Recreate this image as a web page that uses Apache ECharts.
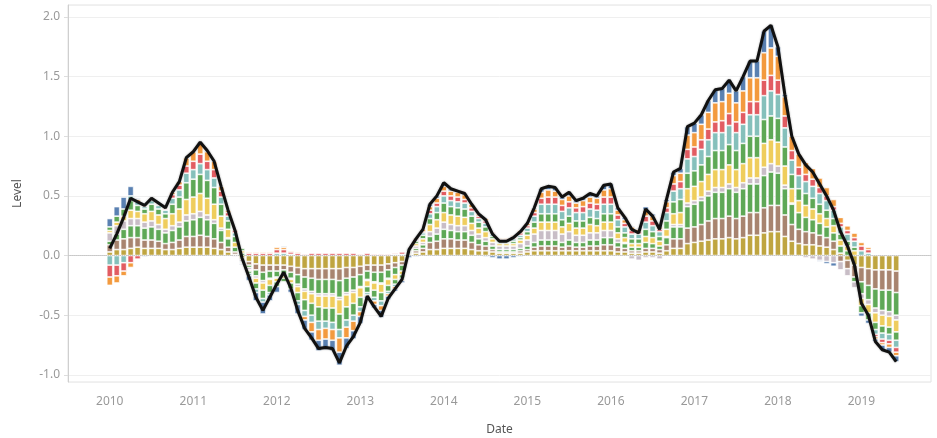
<!DOCTYPE html>
<html>
<head>
<meta charset="utf-8">
<title>Level</title>
<script src="https://cdn.jsdelivr.net/npm/echarts@6/dist/echarts.min.js"></script>
<style>
    html, body { margin: 0; padding: 0; background: #fff; }
    #chart { width: 937px; height: 438px; }
</style>
</head>
<body>
<div id="chart"></div>
<script>
// monthly values, Jan 2010 .. Jun 2019 (one row per year)
var olive = [
    0.03, 0.05, 0.05, 0.06, 0.07, 0.06, 0.06, 0.06, 0.05, 0.05, 0.06, 0.07,
    0.07, 0.07, 0.07, 0.06, 0.05, 0.03, 0.01, -0.02, -0.05, -0.07, -0.08, -0.08,
    -0.08, -0.08, -0.09, -0.10, -0.11, -0.11, -0.11, -0.11, -0.11, -0.11, -0.10, -0.10,
    -0.09, -0.08, -0.08, -0.08, -0.07, -0.06, -0.05, 0.01, 0.02, 0.03, 0.05, 0.05,
    0.06, 0.06, 0.06, 0.06, 0.05, 0.04, 0.04, 0.03, 0.02, 0.02, 0.02, 0.02,
    0.03, 0.04, 0.04, 0.04, 0.04, 0.04, 0.04, 0.04, 0.04, 0.04, 0.04, 0.04,
    0.04, 0.03, 0.03, 0.02, 0.02, 0.03, 0.03, 0.02, 0.04, 0.06, 0.06, 0.10,
    0.11, 0.12, 0.13, 0.14, 0.14, 0.15, 0.14, 0.15, 0.17, 0.17, 0.19, 0.20,
    0.20, 0.16, 0.12, 0.10, 0.09, 0.09, 0.08, 0.07, 0.05, 0.02, -0.04, -0.08,
    -0.10, -0.11, -0.12, -0.12, -0.12, -0.13
];
var brown = [
    0.06, 0.08, 0.09, 0.09, 0.08, 0.07, 0.07, 0.06, 0.05, 0.06, 0.07, 0.09,
    0.09, 0.10, 0.09, 0.08, 0.06, 0.04, 0.02, -0.01, -0.03, -0.05, -0.06, -0.05,
    -0.05, -0.04, -0.05, -0.06, -0.07, -0.08, -0.09, -0.09, -0.09, -0.10, -0.09, -0.08,
    -0.07, -0.05, -0.06, -0.06, -0.05, -0.04, -0.03, 0.01, 0.02, 0.03, 0.06, 0.07,
    0.08, 0.08, 0.07, 0.07, 0.06, 0.05, 0.04, 0.02, 0.01, 0.01, 0.01, 0.02,
    0.02, 0.03, 0.04, 0.04, 0.04, 0.03, 0.04, 0.03, 0.03, 0.04, 0.04, 0.05,
    0.05, 0.04, 0.03, 0.02, 0.02, 0.03, 0.03, 0.03, 0.05, 0.08, 0.08, 0.13,
    0.13, 0.14, 0.16, 0.17, 0.17, 0.18, 0.17, 0.18, 0.19, 0.19, 0.21, 0.22,
    0.22, 0.18, 0.14, 0.12, 0.11, 0.10, 0.09, 0.08, 0.07, -0.05, -0.07, -0.10,
    -0.12, -0.14, -0.16, -0.17, -0.17, -0.18
];
var greenLow = [
    0.03, 0.05, 0.08, 0.10, 0.10, 0.10, 0.11, 0.10, 0.09, 0.10, 0.11, 0.13,
    0.14, 0.15, 0.14, 0.13, 0.10, 0.07, 0.04, 0.02, -0.02, -0.05, -0.07, -0.06,
    -0.05, -0.04, -0.05, -0.08, -0.10, -0.11, -0.12, -0.12, -0.12, -0.14, -0.12, -0.11,
    -0.10, -0.07, -0.08, -0.09, -0.07, -0.06, -0.05, 0.01, 0.02, 0.03, 0.05, 0.06,
    0.08, 0.07, 0.07, 0.07, 0.06, 0.05, 0.04, 0.03, 0.02, 0.02, 0.02, 0.02,
    0.03, 0.04, 0.05, 0.05, 0.05, 0.04, 0.05, 0.04, 0.04, 0.05, 0.05, 0.06,
    0.06, 0.04, 0.04, 0.03, 0.03, 0.05, 0.04, 0.03, 0.06, 0.10, 0.10, 0.18,
    0.19, 0.20, 0.21, 0.22, 0.22, 0.23, 0.22, 0.23, 0.24, 0.24, 0.27, 0.28,
    0.27, 0.22, 0.17, 0.14, 0.12, 0.11, 0.10, 0.09, 0.07, 0.06, 0.04, -0.04,
    -0.10, -0.12, -0.16, -0.17, -0.18, -0.19
];
var grey = [
    0.07, 0.07, 0.07, 0.06, 0.06, 0.05, 0.05, 0.04, 0.03, 0.04, 0.04, 0.05,
    0.05, 0.05, 0.04, 0.03, 0.02, 0.01, -0.01, -0.02, -0.02, -0.02, -0.02, -0.01,
    -0.01, -0.01, -0.01, -0.02, -0.02, -0.02, -0.02, -0.02, -0.02, -0.02, -0.02, -0.02,
    -0.01, -0.01, -0.01, -0.01, -0.01, 0.01, 0.01, 0.01, 0.02, 0.02, 0.04, 0.05,
    0.06, 0.05, 0.05, 0.05, 0.04, 0.04, 0.03, 0.03, 0.03, 0.03, 0.03, 0.04,
    0.05, 0.07, 0.08, 0.08, 0.08, 0.07, 0.07, 0.06, 0.06, 0.06, 0.06, 0.06,
    0.06, 0.03, 0.01, -0.03, -0.04, -0.02, -0.02, -0.03, 0.01, 0.02, 0.02, 0.03,
    0.03, 0.03, 0.04, 0.04, 0.04, 0.04, 0.04, 0.05, 0.05, 0.05, 0.07, 0.07,
    0.06, 0.03, 0.01, 0, -0.02, -0.03, -0.04, -0.05, -0.06, -0.07, -0.06, -0.05,
    -0.04, -0.04, -0.04, -0.04, -0.04, -0.04
];
var yellow = [
    0.02, 0.03, 0.04, 0.07, 0.06, 0.07, 0.08, 0.08, 0.09, 0.10, 0.11, 0.13,
    0.14, 0.15, 0.14, 0.13, 0.10, 0.07, 0.04, 0.02, -0.01, -0.04, -0.06, -0.05,
    -0.03, -0.02, -0.03, -0.05, -0.07, -0.08, -0.09, -0.10, -0.10, -0.12, -0.10, -0.09,
    -0.08, -0.05, -0.06, -0.07, -0.05, -0.04, -0.03, 0, 0.02, 0.03, 0.06, 0.07,
    0.08, 0.08, 0.08, 0.07, 0.06, 0.05, 0.05, 0.03, 0.02, 0.02, 0.02, 0.03,
    0.04, 0.05, 0.07, 0.07, 0.07, 0.06, 0.07, 0.06, 0.06, 0.07, 0.06, 0.07,
    0.07, 0.05, 0.04, 0.03, 0.03, 0.05, 0.05, 0.04, 0.06, 0.09, 0.10, 0.12,
    0.12, 0.13, 0.14, 0.15, 0.15, 0.16, 0.15, 0.16, 0.17, 0.17, 0.20, 0.20,
    0.20, 0.16, 0.12, 0.10, 0.10, 0.09, 0.08, 0.07, 0.06, 0.05, 0.04, 0.04,
    -0.06, -0.07, -0.08, -0.09, -0.09, -0.10
];
var greenHigh = [
    0.03, 0.05, 0.06, 0.08, 0.05, 0.04, 0.06, 0.05, 0.04, 0.08, 0.10, 0.14,
    0.15, 0.16, 0.15, 0.14, 0.10, 0.07, 0.05, 0.02, -0.02, -0.05, -0.07, -0.06,
    -0.04, -0.03, -0.05, -0.07, -0.09, -0.10, -0.12, -0.11, -0.12, -0.13, -0.11, -0.10,
    -0.08, -0.05, -0.06, -0.07, -0.05, -0.04, -0.03, 0.01, 0.02, 0.03, 0.05, 0.06,
    0.08, 0.07, 0.07, 0.07, 0.06, 0.05, 0.04, 0.02, 0.01, 0.01, 0.02, 0.02,
    0.03, 0.05, 0.07, 0.07, 0.07, 0.06, 0.06, 0.06, 0.06, 0.06, 0.06, 0.07,
    0.07, 0.05, 0.04, 0.04, 0.04, 0.06, 0.05, 0.04, 0.07, 0.10, 0.11, 0.13,
    0.13, 0.14, 0.15, 0.16, 0.16, 0.17, 0.16, 0.17, 0.18, 0.18, 0.20, 0.20,
    0.20, 0.16, 0.12, 0.10, 0.10, 0.09, 0.08, 0.07, 0.06, 0.05, 0.04, 0.03,
    -0.06, -0.06, -0.06, -0.06, -0.06, -0.07
];
var teal = [
    -0.08, -0.08, -0.06, 0.04, 0.03, 0.02, 0.03, 0.03, 0.03, 0.05, 0.06, 0.08,
    0.08, 0.09, 0.09, 0.08, 0.06, 0.04, 0.03, -0.01, -0.02, -0.03, -0.03, -0.02,
    0.02, 0.02, 0.01, -0.03, -0.05, -0.06, -0.07, -0.06, -0.06, -0.07, -0.06, -0.05,
    -0.04, -0.02, -0.03, -0.04, -0.02, -0.02, -0.01, 0.01, 0.01, 0.02, 0.04, 0.05,
    0.06, 0.05, 0.05, 0.05, 0.04, 0.03, 0.03, 0.02, 0.02, 0.02, 0.02, 0.02,
    0.03, 0.05, 0.08, 0.08, 0.08, 0.07, 0.07, 0.07, 0.07, 0.07, 0.07, 0.08,
    0.08, 0.06, 0.05, 0.04, 0.04, 0.06, 0.05, 0.04, 0.07, 0.09, 0.09, 0.12,
    0.12, 0.13, 0.14, 0.15, 0.15, 0.16, 0.15, 0.16, 0.18, 0.18, 0.20, 0.21,
    0.20, 0.16, 0.12, 0.11, 0.10, 0.10, 0.09, 0.08, 0.07, 0.06, 0.06, 0.05,
    0.04, 0.02, -0.04, -0.05, -0.05, -0.06
];
var red = [
    -0.10, -0.09, -0.07, -0.06, -0.03, 0.01, 0.01, 0.01, 0.01, 0.03, 0.04, 0.06,
    0.07, 0.08, 0.07, 0.07, 0.05, 0.03, 0.02, -0.01, 0.02, 0.02, 0.02, 0.02,
    0.03, 0.03, 0.02, 0.02, 0.01, 0.02, 0.02, 0.02, 0.02, 0.02, 0.02, 0.02,
    0.01, 0.02, 0.01, 0.01, 0.01, 0.01, 0.02, 0.01, 0.01, 0.01, 0.03, 0.03,
    0.04, 0.04, 0.04, 0.03, 0.03, 0.02, 0.02, 0.01, 0.01, 0.01, 0.02, 0.02,
    0.02, 0.03, 0.05, 0.06, 0.06, 0.05, 0.05, 0.04, 0.05, 0.05, 0.05, 0.06,
    0.06, 0.04, 0.03, 0.03, 0.02, 0.05, 0.04, 0.02, 0.04, 0.06, 0.06, 0.08,
    0.08, 0.08, 0.09, 0.09, 0.10, 0.10, 0.09, 0.10, 0.11, 0.11, 0.13, 0.13,
    0.12, 0.10, 0.08, 0.07, 0.06, 0.06, 0.05, 0.04, 0.03, 0.03, 0.03, 0.03,
    0.04, 0.03, -0.02, -0.03, -0.03, -0.04
];
var orange = [
    -0.07, -0.06, -0.04, -0.04, 0.02, 0.01, 0.01, 0.01, 0.01, 0.02, 0.03, 0.07,
    0.08, 0.09, 0.08, 0.07, 0.04, 0.02, 0.01, 0, 0.01, 0.01, 0.01, 0.01,
    0.02, 0.02, 0.01, 0.01, -0.03, -0.08, -0.09, -0.09, -0.09, -0.12, -0.09, -0.08,
    -0.04, -0.01, -0.03, -0.04, -0.02, -0.02, -0.01, 0, 0.01, 0.02, 0.03, 0.04,
    0.04, 0.04, 0.04, 0.04, 0.03, 0.02, 0.02, 0.01, 0.01, 0.01, 0.01, 0.02,
    0.02, 0.03, 0.05, 0.06, 0.05, 0.05, 0.05, 0.04, 0.05, 0.05, 0.05, 0.06,
    0.07, 0.04, 0.03, 0.03, 0.02, 0.05, 0.04, 0.02, 0.05, 0.07, 0.07, 0.12,
    0.12, 0.13, 0.14, 0.16, 0.16, 0.17, 0.16, 0.18, 0.20, 0.20, 0.23, 0.23,
    0.20, 0.16, 0.12, 0.11, 0.10, 0.09, 0.08, 0.07, 0.06, 0.05, 0.04, 0.04,
    0.03, 0.02, -0.02, -0.02, -0.03, -0.03
];
var blue = [
    0.07, 0.08, 0.10, 0.08, 0.01, -0.01, 0, 0, 0, 0, 0, 0,
    0, 0.01, 0.01, 0, 0, 0, 0, -0.01, -0.04, -0.07, -0.10, -0.05,
    -0.05, 0.01, -0.03, -0.08, -0.08, -0.07, -0.09, -0.09, -0.09, -0.11, -0.09, -0.07,
    -0.06, -0.02, -0.03, -0.06, -0.03, -0.02, -0.02, -0.02, -0.01, 0, 0.02, 0.02,
    0.03, 0.02, 0.01, 0.01, 0, 0, -0.01, -0.02, -0.03, -0.03, -0.02, -0.01,
    0, 0.01, 0.03, 0.03, 0.03, 0.02, 0.03, 0.02, 0.02, 0.03, 0.02, 0.04,
    0.04, 0.02, 0.02, 0.01, 0.01, 0.03, 0.02, 0.01, 0.02, 0.03, 0.04, 0.07,
    0.08, 0.08, 0.10, 0.11, 0.11, 0.11, 0.10, 0.12, 0.14, 0.14, 0.18, 0.19,
    0.08, 0.02, 0, 0, 0, 0, -0.01, -0.02, -0.03, 0, 0, 0,
    -0.03, -0.03, -0.02, -0.04, -0.04, -0.05
];
// overall level (black line)
var level = [
    0.06, 0.18, 0.32, 0.48, 0.45, 0.42, 0.48, 0.44, 0.40, 0.53, 0.62, 0.82,
    0.87, 0.95, 0.88, 0.79, 0.58, 0.38, 0.21, -0.02, -0.18, -0.35, -0.46, -0.35,
    -0.24, -0.14, -0.27, -0.46, -0.61, -0.69, -0.78, -0.77, -0.78, -0.90, -0.76, -0.68,
    -0.56, -0.34, -0.43, -0.51, -0.36, -0.28, -0.20, 0.05, 0.14, 0.22, 0.43, 0.50,
    0.61, 0.56, 0.54, 0.52, 0.43, 0.35, 0.30, 0.18, 0.12, 0.12, 0.15, 0.20,
    0.27, 0.40, 0.56, 0.58, 0.57, 0.49, 0.53, 0.46, 0.48, 0.52, 0.50, 0.59,
    0.60, 0.40, 0.32, 0.22, 0.19, 0.39, 0.33, 0.22, 0.47, 0.70, 0.73, 1.08,
    1.11, 1.18, 1.30, 1.39, 1.40, 1.47, 1.38, 1.50, 1.63, 1.63, 1.88, 1.93,
    1.75, 1.35, 1.00, 0.85, 0.76, 0.70, 0.60, 0.50, 0.38, 0.20, 0.08, -0.08,
    -0.40, -0.50, -0.72, -0.79, -0.81, -0.89
];

// axis runs Jul 2009 .. Nov 2019 so the data sits inside like the original
var months = [];
for (var y = 2009; y <= 2019; y++) {
    for (var m = 1; m <= 12; m++) {
        if ((y === 2009 && m < 7) || (y === 2019 && m > 11)) continue;
        months.push(y + '-' + (m < 10 ? '0' + m : m));
    }
}
var lead = months.indexOf('2010-01');
function pad(arr) {
    var out = [];
    for (var i = 0; i < months.length; i++) {
        var k = i - lead;
        out.push(k >= 0 && k < arr.length ? arr[k] : null);
    }
    return out;
}

var parts = [
    { name: 'Olive', data: olive, color: '#bfa540' },
    { name: 'Brown', data: brown, color: '#a8846f' },
    { name: 'Green A', data: greenLow, color: '#5ea856' },
    { name: 'Grey', data: grey, color: '#c8bdc6' },
    { name: 'Yellow', data: yellow, color: '#efcd5c' },
    { name: 'Green B', data: greenHigh, color: '#5ea856' },
    { name: 'Teal', data: teal, color: '#85c0bb' },
    { name: 'Red', data: red, color: '#e25c62' },
    { name: 'Orange', data: orange, color: '#f39a3e' },
    { name: 'Blue', data: blue, color: '#5a81b2' }
];

var series = parts.map(function(p) {
    return {
        name: p.name,
        type: 'bar',
        stack: 'level',
        barWidth: 6,
        data: pad(p.data),
        itemStyle: { color: p.color, borderColor: '#fff', borderWidth: 0.7 }
    };
});
series.push({
    name: 'Level',
    type: 'line',
    data: pad(level),
    symbol: 'none',
    z: 5,
    lineStyle: { color: '#111', width: 3, shadowColor: 'rgba(0,0,0,0.35)', shadowBlur: 2 },
    markLine: {
        silent: true,
        symbol: 'none',
        label: { show: false },
        lineStyle: { color: '#c8c8c8', type: 'dotted', width: 1 },
        data: [{ yAxis: 0 }]
    }
});

var chart = echarts.init(document.getElementById('chart'));
var option = {
    animation: false,
    textStyle: { fontFamily: 'Noto Sans' },
    grid: {
        left: 68,
        right: 6,
        top: 5,
        bottom: 56,
        containLabel: false,
        outerBoundsMode: 'none',
        show: true,
        borderColor: '#e2e2e2',
        borderWidth: 1
    },
    xAxis: {
        type: 'category',
        data: months,
        boundaryGap: false,
        name: 'Date',
        nameLocation: 'middle',
        nameGap: 42,
        nameTextStyle: { color: '#555', fontSize: 12 },
        axisLine: { lineStyle: { color: '#cfcfcf' } },
        axisTick: { show: false },
        axisLabel: {
            color: '#999',
            fontSize: 12,
            margin: 14,
            interval: function(i, v) { return v.slice(5) === '01'; },
            formatter: function(v) { return v.slice(0, 4); }
        },
        splitLine: { show: false }
    },
    yAxis: {
        type: 'value',
        min: -1.06,
        max: 2.10,
        name: 'Level',
        nameLocation: 'middle',
        nameGap: 44,
        nameTextStyle: { color: '#555', fontSize: 12 },
        axisLine: { show: true, lineStyle: { color: '#cfcfcf' } },
        axisTick: { show: true, length: 4, lineStyle: { color: '#ddd' } },
        axisLabel: {
            color: '#999',
            fontSize: 12,
            margin: 8,
            showMinLabel: false,
            showMaxLabel: false,
            formatter: function(v) { return v.toFixed(1); }
        },
        splitLine: { lineStyle: { color: '#efefef' } }
    },
    series: series
};
chart.setOption(option);
</script>
</body>
</html>
